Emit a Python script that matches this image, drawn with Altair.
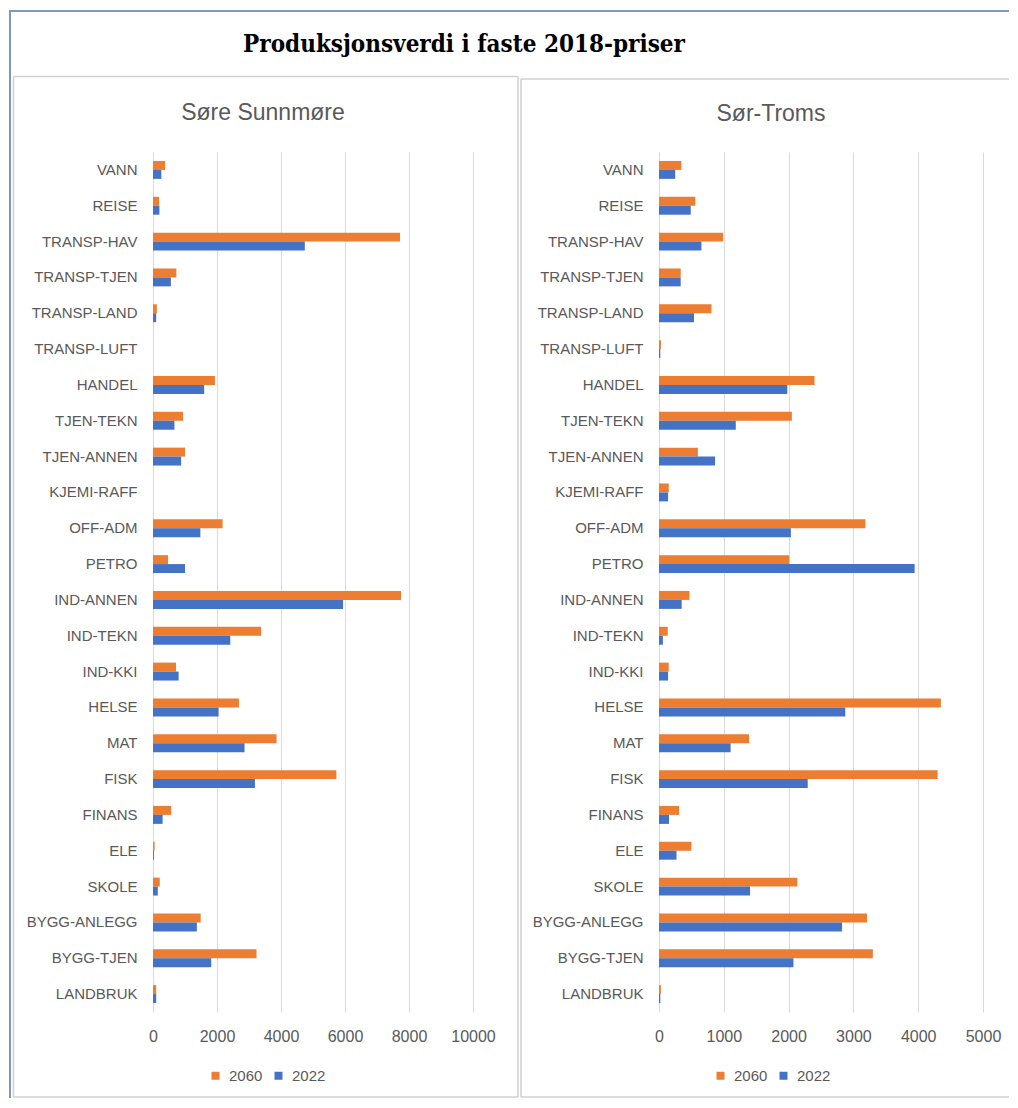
import altair as alt
import pandas as pd

categories = ["VANN", "REISE", "TRANSP-HAV", "TRANSP-TJEN", "TRANSP-LAND", "TRANSP-LUFT",
              "HANDEL", "TJEN-TEKN", "TJEN-ANNEN", "KJEMI-RAFF", "OFF-ADM", "PETRO",
              "IND-ANNEN", "IND-TEKN", "IND-KKI", "HELSE", "MAT", "FISK", "FINANS", "ELE",
              "SKOLE", "BYGG-ANLEGG", "BYGG-TJEN", "LANDBRUK"]
years = ["2060", "2022"]

sunnmore_2060 = [380, 190, 7720, 730, 120, 0, 1935, 940, 1000, 0, 2175, 470,
                 7750, 3380, 720, 2685, 3860, 5730, 570, 50, 210, 1490, 3235, 100]
sunnmore_2022 = [260, 200, 4745, 560, 100, 0, 1600, 670, 880, 0, 1480, 1000,
                 5940, 2415, 800, 2050, 2860, 3185, 300, 30, 150, 1370, 1820, 100]
troms_2060 = [345, 560, 990, 335, 810, 30, 2400, 2050, 600, 150, 3185, 2010,
              470, 135, 150, 4350, 1390, 4300, 310, 500, 2135, 3210, 3300, 30]
troms_2022 = [250, 490, 655, 335, 540, 20, 1980, 1185, 865, 140, 2035, 3945,
              350, 60, 140, 2875, 1105, 2295, 155, 270, 1405, 2825, 2075, 20]

main_title = "Produksjonsverdi i faste 2018-priser"
left_title = "Søre Sunnmøre"
right_title = "Sør-Troms"
left_ticks = [0, 2000, 4000, 6000, 8000, 10000]
right_ticks = [0, 1000, 2000, 3000, 4000, 5000]

ORANGE = "#ED7D31"
BLUE = "#4472C4"
TEXT = "#595959"
GRID = "#D9D9D9"
FRAME = "#D0D0D0"
OUTER = "#7F97BA"
FONT = "Liberation Sans"

one = pd.DataFrame({"k": [0]})


def hline(x1, x2, y, color, w):
    return alt.Chart(one).mark_rule(color=color, strokeWidth=w).encode(
        x=alt.value(x1), x2=alt.value(x2), y=alt.value(y))


def vline(x, y1, y2, color, w):
    return alt.Chart(one).mark_rule(color=color, strokeWidth=w).encode(
        x=alt.value(x), y=alt.value(y1), y2=alt.value(y2))


def label(text, x, y, size, color, font, weight="normal"):
    return alt.Chart(one).mark_text(
        fontSize=size, color=color, font=font, fontWeight=weight,
        align="center", baseline="middle").encode(
        x=alt.value(x), y=alt.value(y), text=alt.value(text))


def panel(v60, v22, ticks, legend_x):
    df = pd.DataFrame({
        "sector": categories * 2,
        "year": [years[0]] * len(categories) + [years[1]] * len(categories),
        "value": v60 + v22,
    })
    bars = alt.Chart(df).mark_bar().encode(
        x=alt.X("value:Q",
                scale=alt.Scale(domain=[ticks[0], ticks[-1]], nice=False),
                axis=alt.Axis(title=None, values=ticks, grid=True, gridColor=GRID,
                              domain=False, ticks=False, labelFontSize=16,
                              labelColor=TEXT, labelFont=FONT, labelPadding=16,
                              labelFlush=False, labelOverlap=False, format="d")),
        y=alt.Y("sector:N", sort=categories,
                scale=alt.Scale(paddingInner=0.5, paddingOuter=0.25),
                axis=alt.Axis(title=None, domain=False, ticks=False, grid=False,
                              labelFontSize=15, labelColor=TEXT, labelFont=FONT,
                              labelPadding=16)),
        yOffset=alt.YOffset("year:N", sort=years,
                            scale=alt.Scale(domain=years, paddingInner=0, paddingOuter=0)),
        color=alt.Color("year:N",
                        scale=alt.Scale(domain=years, range=[ORANGE, BLUE]),
                        legend=alt.Legend(title=None, orient="none", direction="horizontal",
                                          legendX=legend_x, legendY=916,
                                          symbolType="square", symbolSize=64,
                                          symbolStrokeWidth=0, labelFontSize=15,
                                          labelColor=TEXT, labelFont=FONT,
                                          labelOffset=6, columnPadding=8, padding=0)),
    )
    return bars


left_bars = panel(sunnmore_2060, sunnmore_2022, left_ticks, 55)
right_bars = panel(troms_2060, troms_2022, right_ticks, 54)

# left panel origin ~ (152,152) on page; right panel origin ~ (658,152)
left = alt.layer(
    hline(-144, 856, -141, OUTER, 2),
    vline(-143, -141, 946, OUTER, 2),
    hline(-139.5, 365, -75.5, FRAME, 1.5),
    hline(-139.5, 365, 945, FRAME, 1.5),
    vline(-139.5, -75.5, 945, FRAME, 1.5),
    vline(365, -75.5, 945, FRAME, 1.5),
    label(main_title, 311, -107, 24, "#000000", "DejaVu Serif Condensed", "bold"),
    label(left_title, 110, -39, 23, TEXT, FONT),
    left_bars,
).properties(width=320, height=860)

right = alt.layer(
    hline(-138, 350, -73, FRAME, 1.5),
    hline(-138, 350, 945, FRAME, 1.5),
    vline(-138, -73, 945, FRAME, 1.5),
    label(right_title, 112, -38, 23, TEXT, FONT),
    right_bars,
).properties(width=324, height=860)

chart = alt.hconcat(left, right, spacing=186, bounds="flush").resolve_scale(
    x="independent", y="independent", color="independent"
).resolve_legend(color="independent").properties(
    padding={"left": 0, "top": 2, "right": 0, "bottom": 0},
    background="white",
).configure_view(strokeWidth=0)

chart.save("out.html", embed_options={"renderer": "svg", "actions": False})
